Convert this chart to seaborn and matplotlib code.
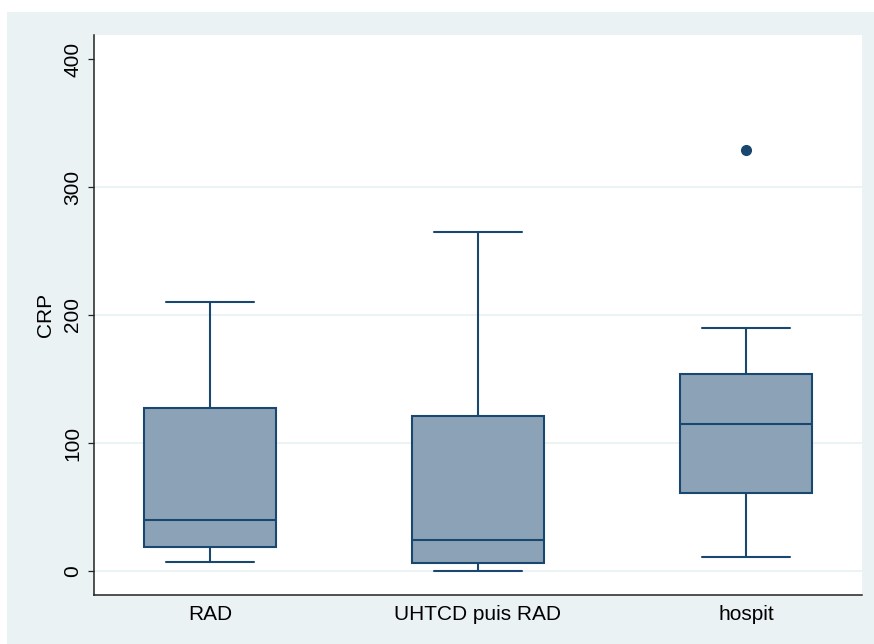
import matplotlib
matplotlib.use("Agg")
import matplotlib.pyplot as plt
import matplotlib.patches as mpatches
import seaborn as sns
import pandas as pd

# Summary values
categories = ["RAD", "UHTCD puis RAD", "hospit"]
lower_whisker = [7, 0, 11]
q1 = [19, 6, 61]
median = [40, 24, 115]
q3 = [127, 121, 154]
upper_whisker = [210, 265, 190]
outliers = [[], [], [329]]
yticks = [0, 100, 200, 300, 400]

# Build a small table whose quartiles / whiskers reproduce these summaries
rows = []
for cat, lo, a, m, b, hi, outs in zip(categories, lower_whisker, q1, median, q3,
                                       upper_whisker, outliers):
    for v in [lo, a, a, m, m, b, b, hi] + list(outs):
        rows.append({"group": cat, "CRP": v})
df = pd.DataFrame(rows)

sns.set_style("white")
plt.rcParams["font.family"] = ["Liberation Sans", "DejaVu Sans"]
plt.rcParams["text.color"] = "black"
plt.rcParams["xtick.color"] = "black"
plt.rcParams["ytick.color"] = "black"
plt.rcParams["axes.labelcolor"] = "black"

navy = "#1A476F"
fill = "#8CA3B7"
bg = "#EAF2F3"

fig = plt.figure(figsize=(8.74, 6.44), dpi=100, facecolor="white")
fig.patches.append(mpatches.Rectangle((7 / 874, 0), 1, (644 - 12) / 644,
                                      transform=fig.transFigure,
                                      facecolor=bg, edgecolor="none", zorder=-10))
ax = fig.add_axes([94 / 874, (644 - 595) / 644, (862 - 94) / 874, (595 - 35) / 644])
ax.set_zorder(1)
ax.set_facecolor("white")

sns.boxplot(data=df, x="group", y="CRP", order=categories, ax=ax,
            width=0.49, color=fill, linecolor=navy, linewidth=1.5,
            saturation=1, whis=1.5,
            flierprops=dict(marker="o", markerfacecolor=navy,
                            markeredgecolor=navy, markersize=7),
            capwidths=0.33)

ax.set_xlim(-0.433, 2.433)
ax.set_ylim(-18.75, 418.75)
ax.set_yticks(yticks)
ax.set_yticklabels([str(t) for t in yticks], rotation=90, va="center")
ax.yaxis.grid(True, color=bg, linewidth=1.3)
ax.set_axisbelow(True)
gl = ax.yaxis.get_gridlines()
if gl:
    gl[-1].set_visible(False)

for s in ["top", "right"]:
    ax.spines[s].set_visible(False)
for s in ["left", "bottom"]:
    ax.spines[s].set_color("#222222")
    ax.spines[s].set_linewidth(1.1)

ax.tick_params(axis="y", length=4.5, width=0.9, color="#222222",
               labelsize=15, pad=4, left=True)
ax.tick_params(axis="x", length=0, labelsize=15, pad=7)
ax.set_xlabel("")
ax.set_ylabel("CRP", fontsize=15, labelpad=6)

fig.savefig("out.png", dpi=100, facecolor=fig.get_facecolor())
